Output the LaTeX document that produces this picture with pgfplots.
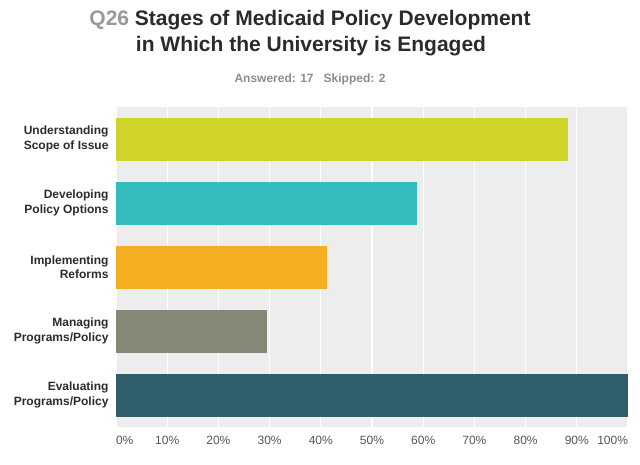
\documentclass[border=0pt]{standalone}
\usepackage{pgfplots}
\pgfplotsset{compat=1.18}
\usepackage{fontspec}
\setmainfont{Liberation Sans}
\definecolor{c1}{HTML}{D0D32A}
\definecolor{c2}{HTML}{33BDBF}
\definecolor{c3}{HTML}{F5AE22}
\definecolor{c4}{HTML}{878777}
\definecolor{c5}{HTML}{2E5F6B}
\definecolor{bgc}{HTML}{EDEDED}
\definecolor{titlec}{HTML}{2B2B2B}
\definecolor{qgray}{HTML}{999999}
\definecolor{subc}{HTML}{8C8C8C}
\definecolor{labc}{HTML}{2B2B2B}
\definecolor{tickc}{HTML}{555555}
\begin{document}
\begin{tikzpicture}
\useasboundingbox (0pt,0pt) rectangle (640pt,464pt);
\node[font=\bfseries\fontsize{21}{25}\selectfont, text=titlec, inner sep=0] at (310pt,443.5pt) {\textcolor{qgray}{Q26} Stages of Medicaid Policy Development};
\node[font=\bfseries\fontsize{21}{25}\selectfont, text=titlec, inner sep=0] at (311pt,417.5pt) {in Which the University is Engaged};
\node[font=\bfseries\fontsize{12}{14}\selectfont, text=subc, inner sep=0] at (310pt,385pt) {Answered: 17\hspace{10pt}Skipped: 2};
\begin{axis}[
  at={(116pt,37pt)}, anchor=south west,
  scale only axis, width=512pt, height=320pt,
  xbar, bar width=43pt, bar shift=0pt,
  xmin=0, xmax=100, ymin=-0.5, ymax=4.5,
  y dir=reverse,
  axis background/.style={fill=bgc},
  axis line style={draw=none},
  major tick length=0pt,
  xtick={0,10,...,100},
  xticklabels={\makebox[0pt][l]{0\%},10\%,20\%,30\%,40\%,50\%,60\%,70\%,80\%,90\%,\makebox[0pt][r]{100\%}},
  xticklabel style={font=\fontsize{12}{14}\selectfont, text=tickc, yshift=-6pt},
  ytick={0,...,4},
  yticklabels={{Understanding\\Scope of Issue},{Developing\\Policy Options},{Implementing\\Reforms},{Managing\\Programs/Policy},{Evaluating\\Programs/Policy}},
  yticklabel style={font=\bfseries\fontsize{12}{14.5}\selectfont, text=labc, align=right, xshift=-4pt},
  xmajorgrids, grid style={white, line width=1.2pt},
]
\addplot[fill=c1, draw=none] coordinates {(88.24,0)};
\addplot[fill=c2, draw=none] coordinates {(58.82,1)};
\addplot[fill=c3, draw=none] coordinates {(41.18,2)};
\addplot[fill=c4, draw=none] coordinates {(29.41,3)};
\addplot[fill=c5, draw=none] coordinates {(100,4)};
\end{axis}
\end{tikzpicture}
\end{document}
